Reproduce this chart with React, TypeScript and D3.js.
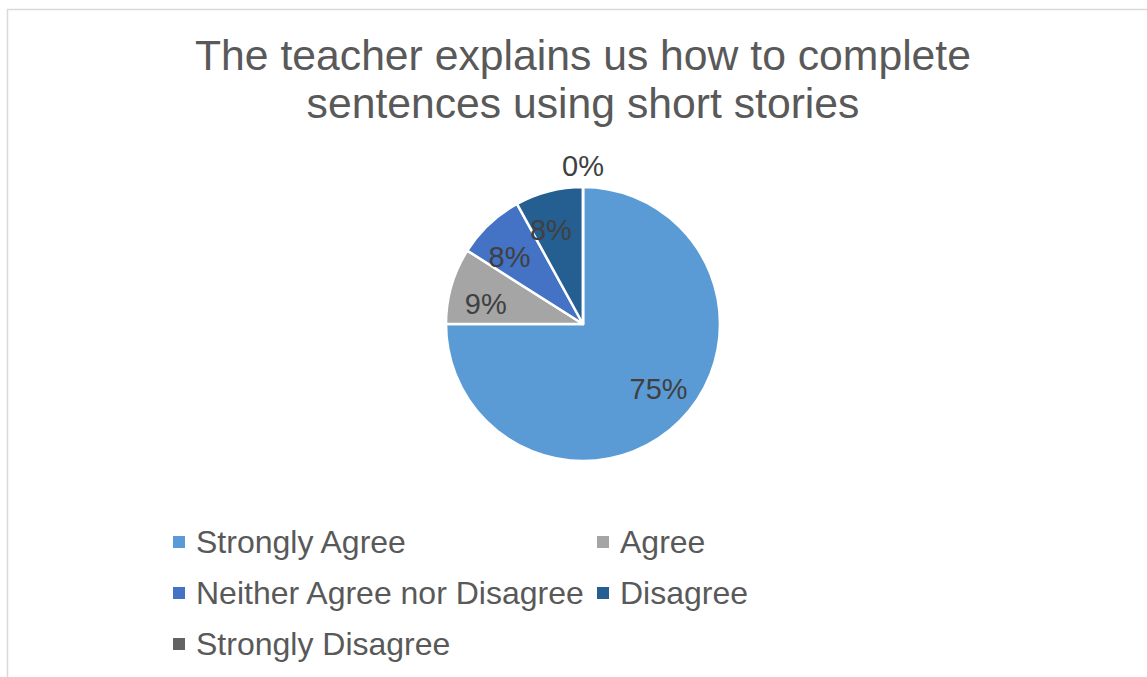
import React from "react";
import * as d3 from "d3";

const categories = ["Strongly Agree", "Agree", "Neither Agree nor Disagree", "Disagree", "Strongly Disagree"];
const values = [75, 9, 8, 8, 0];
const labels = ["75%", "9%", "8%", "8%", "0%"];
const colors = ["#5B9BD5", "#A5A5A5", "#4472C4", "#255E91", "#636363"];
const titleLines = ["The teacher explains us how to complete", "sentences using short stories"];

const W = 1147;
const H = 677;
const FONT = "'Liberation Sans', Arial, sans-serif";

export default function App() {
  const cx = 583;
  const cy = 324;
  const r = 137;
  const pie = d3.pie<number>().sort(null).startAngle(0).endAngle(2 * Math.PI).value((d) => d);
  const arcs = pie(values);
  const arc = d3.arc<d3.PieArcDatum<number>>().innerRadius(0).outerRadius(r);
  const shift = (-4.5 * Math.PI) / 180;
  const labelPos = (a: d3.PieArcDatum<number>) => {
    const mid = (a.startAngle + a.endAngle) / 2 + (a.data === 0 ? 0 : shift);
    const rr = a.data === 0 ? r * 1.155 : r * 0.725;
    return [Math.sin(mid) * rr, -Math.cos(mid) * rr];
  };

  const legendX = d3.scaleOrdinal<number, number>().domain([0, 1]).range([173, 597]);
  const legendY = d3.scaleLinear().domain([0, 1]).range([542, 593]);

  return (
    <svg
      width={W}
      height={H}
      style={{ position: "absolute", left: 0, top: 0, background: "#fff" }}
      fontFamily={FONT}
    >
      <rect x={7.5} y={9.5} width={W + 20} height={H + 20} fill="#fff" stroke="#D9D9D9" strokeWidth={1.5} />
      {titleLines.map((t, i) => (
        <text key={i} x={583} y={70 + i * 48} textAnchor="middle" fontSize={42.7} fill="#595959">
          {t}
        </text>
      ))}
      <g transform={`translate(${cx},${cy})`}>
        {arcs.map((a, i) => (
          <path key={i} d={arc(a) || ""} fill={colors[i]} stroke="#fff" strokeWidth={2.5} strokeLinejoin="round" />
        ))}
        {arcs.map((a, i) => {
          const [x, y] = labelPos(a);
          return (
            <text key={i} x={x} y={y} dy="0.35em" textAnchor="middle" fontSize={29} fill="#404040">
              {labels[i]}
            </text>
          );
        })}
      </g>
      {categories.map((c, i) => {
        const col = i % 2;
        const row = Math.floor(i / 2);
        const x = legendX(col);
        const y = legendY(row);
        return (
          <g key={c}>
            <rect x={x} y={y - 6} width={12} height={12} fill={colors[i]} />
            <text x={x + 23} y={y} dy="0.35em" fontSize={32} fill="#595959">
              {c}
            </text>
          </g>
        );
      })}
    </svg>
  );
}
